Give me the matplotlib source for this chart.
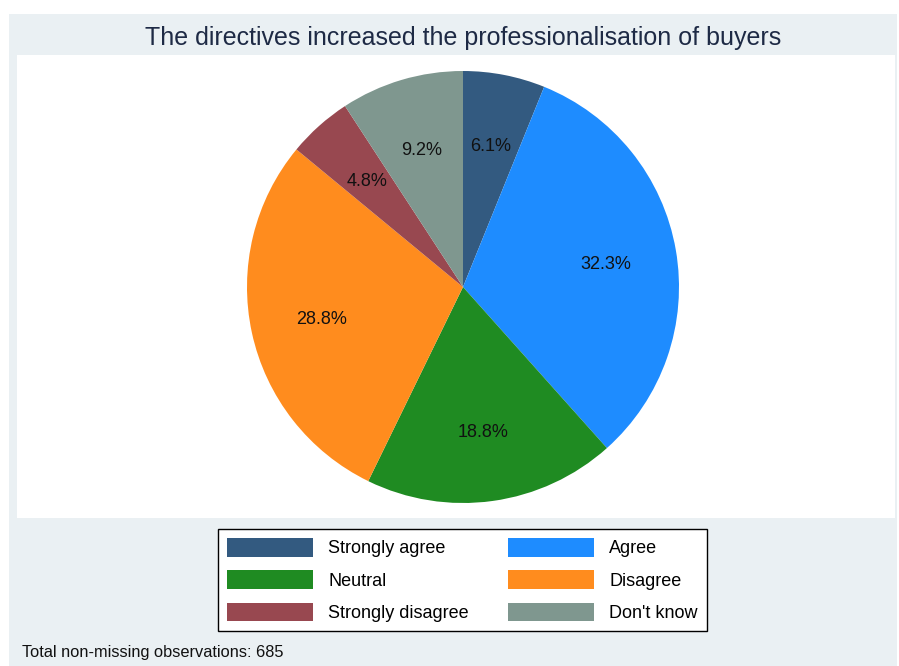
import matplotlib
matplotlib.use("Agg")
import matplotlib.pyplot as plt
from matplotlib.patches import Rectangle

matplotlib.rcParams.update({
    "font.family": ["Liberation Sans", "DejaVu Sans"],
})

# data (counts read back from the shares, N = 685)
categories = ["Strongly agree", "Agree", "Neutral", "Disagree",
              "Strongly disagree", "Don't know"]
counts = [42, 221, 129, 197, 33, 63]
colors = ["#335A80", "#1E8CFF", "#1F8B22", "#FF8C1E", "#984850", "#7F978F"]
title = "The directives increased the professionalisation of buyers"
note = "Total non-missing observations: 685"

W, H = 899, 666
fig = plt.figure(figsize=(W / 100, H / 100), dpi=100)

# background: outer band and inner plot region (Stata-like)
bg = fig.add_axes([0, 0, 1, 1], zorder=-1)
bg.set_xlim(0, W)
bg.set_ylim(H, 0)
bg.axis("off")
bg.add_patch(Rectangle((9, 14), 897 - 9, H - 14,
                       facecolor="#EAF0F3", edgecolor="none"))
bg.add_patch(Rectangle((17, 55), 895 - 17, 518 - 55,
                       facecolor="white", edgecolor="none"))

# pie: centre (463, 287), radius 216 px
cx, cy, r = 463, 287, 216
ax = fig.add_axes([(cx - r) / W, 1 - (cy + r) / H, 2 * r / W, 2 * r / H])
ax.set_facecolor("none")
wedges, texts, autotexts = ax.pie(
    counts, colors=colors, startangle=90, counterclock=False,
    autopct="%.1f%%", pctdistance=0.67, radius=1,
    wedgeprops=dict(linewidth=0),
    textprops=dict(fontsize=13, color="#111111"))
for t in autotexts:
    t.set_va("center_baseline")
ax.set_xlim(-1, 1)
ax.set_ylim(-1, 1)
ax.axis("off")

fig.text(463.5 / W, 1 - 38 / H, title, ha="center", va="center",
         fontsize=18, color="#1E2A45")

# legend filled row by row, as in the reference
order = [0, 2, 4, 1, 3, 5]
leg = fig.legend([wedges[i] for i in order], [categories[i] for i in order],
                 loc="center", ncol=2,
                 bbox_to_anchor=(462.5 / W, 1 - 580 / H),
                 fontsize=13, handlelength=4.76, handleheight=1.22,
                 handletextpad=0.83, columnspacing=2.2, labelspacing=0.72,
                 borderpad=0.5, fancybox=False, framealpha=1)
leg.get_frame().set_edgecolor("black")
leg.get_frame().set_linewidth(1.0)

fig.text(22 / W, 1 - 653 / H, note, ha="left", va="center",
         fontsize=11.8, color="#111111")

fig.savefig("out.png", dpi=100)
